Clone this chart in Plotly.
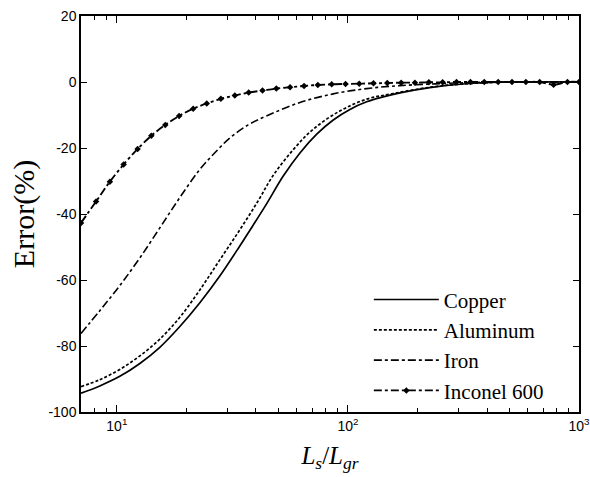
import plotly.graph_objects as go

copper_x = [7, 8.44, 10.3, 12.58, 15.35, 18.74, 22.87, 27.9, 34.05, 37.6, 44.4, 52.5, 62, 73.3,
            86.4, 102, 120.5, 142, 168, 226, 315, 500, 1000]
copper_y = [-94.3, -92.1, -89.2, -85.3, -80.4, -74.1, -66.9, -58.8, -49.7, -45, -37, -28.5, -21.5,
            -15.8, -11.5, -8.3, -6.0, -4.5, -3.3, -1.7, -0.6, 0, 0]

aluminum_x = [7, 8.44, 10.3, 12.58, 15.35, 18.74, 22.87, 27.9, 34.05, 40.9, 47.3, 58, 70.8,
              92.2, 120.5, 157, 226, 315, 500, 1000]
aluminum_y = [-92.3, -90.2, -87.1, -83.0, -77.9, -71.3, -63, -53.9, -44.8, -36, -28.5, -20.5,
              -14.3, -8.8, -5.2, -3.5, -1.6, -0.6, 0, 0]

iron_x = [7, 8.44, 10.3, 12.58, 15.35, 18.74, 22.87, 26.5, 30.8, 37, 44.4, 62, 86.4, 120.5, 168,
          300, 500, 1000]
iron_y = [-76.2, -69.3, -61.7, -53.3, -44.2, -35, -26.5, -21.5, -17, -13, -10.3, -6.2, -3.6, -2.0,
          -1.1, -0.3, 0, 0]

inconel_x = [7.0, 8.13, 9.33, 10.7, 12.3, 14.1, 16.2, 18.6, 21.4, 24.5, 28.2, 32.4, 37.2, 42.7,
             49.0, 56.2, 64.6, 74.1, 85.1, 97.7, 112, 129, 148, 170, 195, 224, 257, 295, 339,
             389, 447, 513, 589, 676, 776, 891, 1000]
inconel_y = [-42.7, -36.2, -30.2, -25, -20.3, -16.3, -13, -10.3, -8.1, -6.5, -5.1, -4.1, -3.2,
             -2.6, -2.0, -1.6, -1.2, -0.9, -0.7, -0.6, -0.5, -0.4, -0.3, -0.2, -0.2, -0.1, -0.1,
             0, 0, 0, 0, 0, 0, 0, -0.8, 0, 0]

y_ticks = [-100, -80, -60, -40, -20, 0, 20]
y_ticktext = ["-100", "-80", "-60", "-40", "-20", "0", "20"]
x_ticks = [10, 100, 1000]
x_ticktext = ["10<sup>1</sup>", "10<sup>2</sup>", "10<sup>3</sup>"]
x_minor = [m * d for d in (1, 10, 100) for m in range(2, 10)]

fig = go.Figure()
fig.add_trace(go.Scatter(x=copper_x, y=copper_y, name="Copper", mode="lines",
                         line=dict(color="black", width=1.7, shape="spline")))
fig.add_trace(go.Scatter(x=aluminum_x, y=aluminum_y, name="Aluminum", mode="lines",
                         line=dict(color="black", width=1.7, dash="3px,2px", shape="spline")))
fig.add_trace(go.Scatter(x=iron_x, y=iron_y, name="Iron", mode="lines",
                         line=dict(color="black", width=1.6, dash="8px,3px,3px,3px", shape="spline")))
fig.add_trace(go.Scatter(x=inconel_x, y=inconel_y, name="Inconel 600", mode="lines+markers",
                         line=dict(color="black", width=1.9, dash="8px,3px,3px,3px", shape="spline"),
                         marker=dict(symbol="diamond", size=5, color="black")))

axis_common = dict(showgrid=False, zeroline=False, showline=True, linecolor="black",
                   linewidth=1.5, mirror="ticks", ticks="inside", tickcolor="black",
                   automargin=False, ticklabeloverflow="allow",
                   tickfont=dict(family="Liberation Sans, Arial", size=14, color="black"))

fig.update_xaxes(type="log", range=[0.845, 3], tickmode="array", tickvals=x_ticks,
                 ticktext=x_ticktext, ticklen=7,
                 minor=dict(tickmode="array", tickvals=x_minor, ticks="inside", ticklen=4,
                            tickcolor="black", showgrid=False),
                 title=dict(text="<i>L<sub>s</sub></i>/<i>L<sub>gr</sub></i>",
                            font=dict(family="Liberation Serif, Times New Roman", size=25, color="black"),
                            standoff=14),
                 **axis_common)
fig.update_yaxes(range=[-100, 20], tickmode="array", tickvals=y_ticks, ticktext=y_ticktext,
                 ticklen=6,
                 title=dict(text="Error(%)",
                            font=dict(family="Liberation Serif, Times New Roman", size=30, color="black"),
                            standoff=5),
                 **axis_common)

fig.update_layout(
    width=590, height=477,
    margin=dict(l=81, r=11, t=16, b=65),
    paper_bgcolor="white", plot_bgcolor="white",
    showlegend=True,
    legend=dict(x=0.578, y=0.335, xanchor="left", yanchor="top",
                bgcolor="rgba(0,0,0,0)", itemwidth=65, tracegroupgap=0,
                font=dict(family="Liberation Serif, Times New Roman", size=21, color="black")),
)

fig.write_html("out.html", config={"displayModeBar": False},
               post_script="document.body.style.margin='0';")
